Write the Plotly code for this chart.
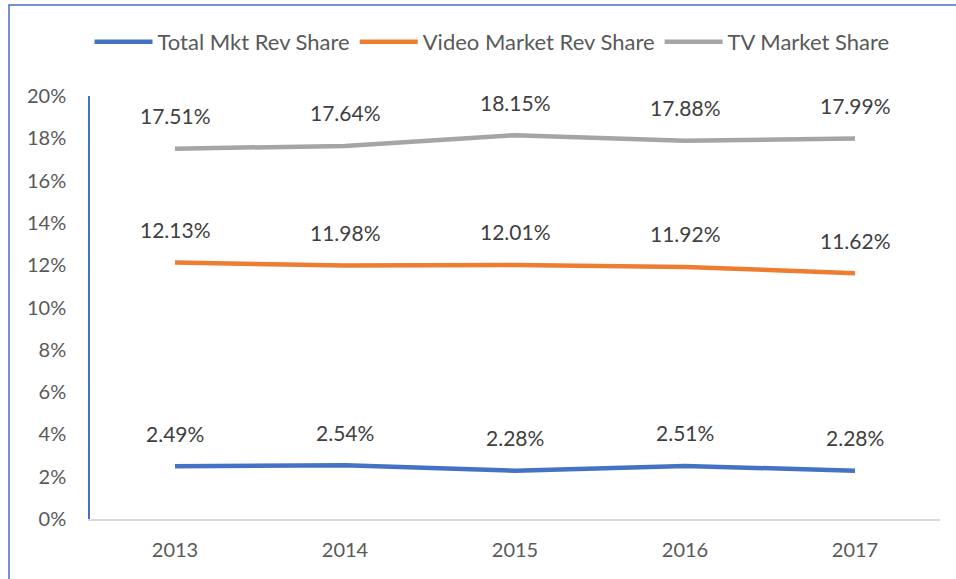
import plotly.graph_objects as go

years = ["2013", "2014", "2015", "2016", "2017"]
total_mkt = [2.49, 2.54, 2.28, 2.51, 2.28]
video_mkt = [12.13, 11.98, 12.01, 11.92, 11.62]
tv_mkt = [17.51, 17.64, 18.15, 17.88, 17.99]
y_ticks = [0, 2, 4, 6, 8, 10, 12, 14, 16, 18, 20]

series = [
    ("Total Mkt Rev Share", total_mkt, "#4472C4"),
    ("Video Market Rev Share", video_mkt, "#ED7D31"),
    ("TV Market Share", tv_mkt, "#A5A5A5"),
]

FONT = "Lato"
fig = go.Figure()
annotations = []
for name, vals, col in series:
    fig.add_trace(go.Scatter(
        x=years, y=[v / 100 for v in vals], mode="lines", name=name,
        line=dict(color=col, width=4.5),
    ))
    for i, v in enumerate(vals):
        annotations.append(dict(
            x=i, y=v / 100, xref="x", yref="y", text=f"{v:.2f}%",
            showarrow=False, yshift=33, xanchor="center", yanchor="middle",
            font=dict(family=FONT, size=21, color="#404040"),
        ))

W, H = 956, 579
L, R, T, B = 90, 16, 96, 60
pw, ph = W - L - R, H - T - B

fig.update_layout(
    width=W, height=H,
    margin=dict(l=L, r=R, t=T, b=B),
    paper_bgcolor="white", plot_bgcolor="white",
    font=dict(family=FONT, size=20, color="#595959"),
    showlegend=True,
    legend=dict(
        orientation="h", x=(492 - L) / pw, xanchor="center",
        y=(H - B - 42) / ph, yanchor="middle",
        font=dict(family=FONT, size=22, color="#595959"),
        itemwidth=58, tracegroupgap=0,
    ),
    xaxis=dict(
        type="category", range=[-0.5, 4.5], showgrid=False,
        showline=True, linecolor="#D9D9D9", linewidth=1.5,
        ticks="", ticklabelstandoff=12, tickfont=dict(size=20, color="#595959"),
        zeroline=False,
    ),
    yaxis=dict(
        range=[0, 0.2], tickvals=[t / 100 for t in y_ticks],
        ticktext=[f"{t}%" for t in y_ticks],
        showgrid=False, zeroline=False,
        showline=True, linecolor="#4472C4", linewidth=1.5,
        ticks="", ticklabelstandoff=18, tickfont=dict(size=20, color="#595959"),
    ),
    shapes=[dict(
        type="rect", xref="paper", yref="paper",
        x0=(9 - L) / pw, x1=(W + 10 - L) / pw,
        y0=(H - B - (H + 10)) / ph, y1=(H - B - 5) / ph,
        line=dict(color="#4472C4", width=1.5), fillcolor="rgba(0,0,0,0)",
        layer="below",
    )],
)
for a in annotations:
    fig.add_annotation(**a)

fig.write_html(
    "out.html",
    config={"displayModeBar": False},
    post_script="document.body.style.margin='0';",
)
